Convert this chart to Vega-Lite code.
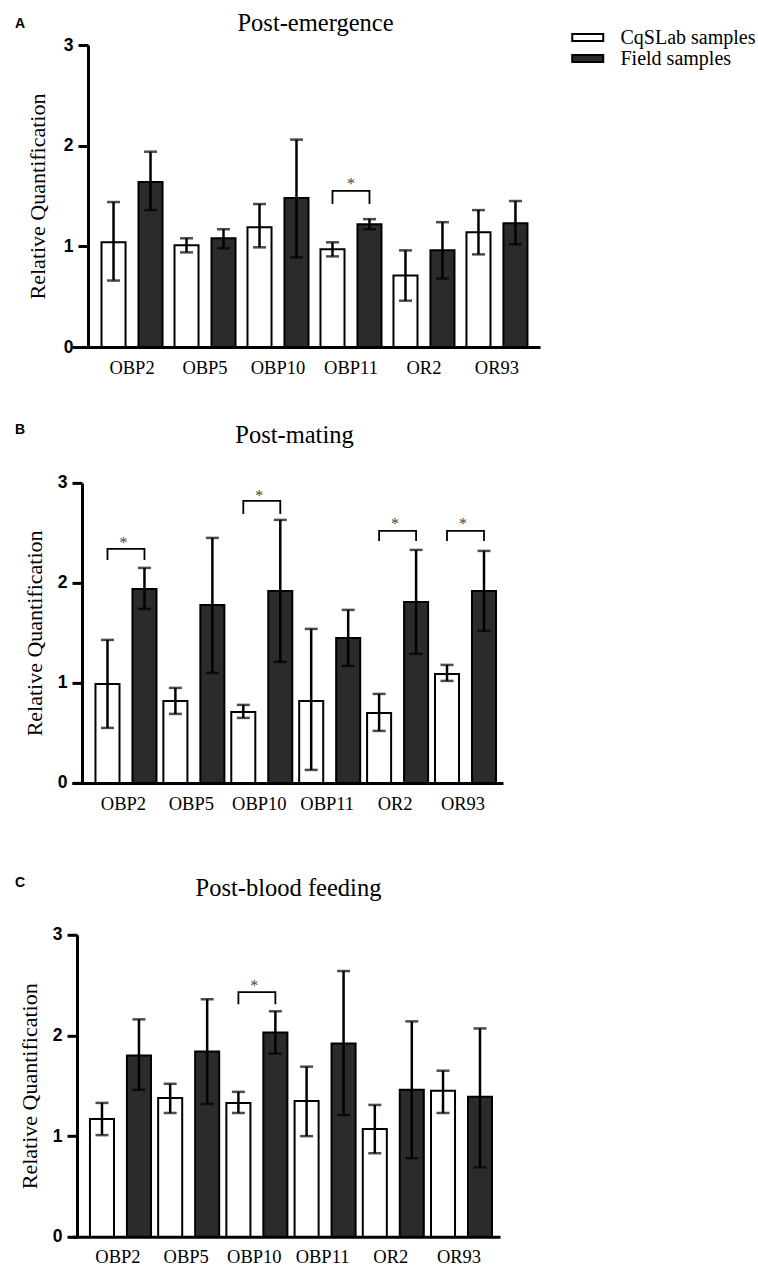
{
  "$schema": "https://vega.github.io/schema/vega-lite/v6.json",
  "background": "white",
  "padding": {"left": 15, "top": 10, "right": 0, "bottom": 0},
  "spacing": 44.9,
  "config": {
    "view": {"stroke": null},
    "font": "Liberation Serif",
    "axis": {"grid": false, "domainColor": "black", "domainWidth": 3, "tickColor": "black", "tickWidth": 3, "labelColor": "black", "titleColor": "black"},
    "axisBottom": {"labelFont": "Liberation Serif", "labelFontSize": 18.5, "labelFontWeight": "normal"},
    "axisLeft": {"labelFont": "Liberation Sans", "labelFontSize": 17.5, "labelFontWeight": "bold"}
  },
  "datasets": {
    "A": [
      {"gene": "OBP2", "group": "CqSLab samples", "mean": 1.04, "lo": 0.66, "hi": 1.44},
      {"gene": "OBP2", "group": "Field samples", "mean": 1.64, "lo": 1.36, "hi": 1.94},
      {"gene": "OBP5", "group": "CqSLab samples", "mean": 1.01, "lo": 0.94, "hi": 1.08},
      {"gene": "OBP5", "group": "Field samples", "mean": 1.08, "lo": 0.98, "hi": 1.17},
      {"gene": "OBP10", "group": "CqSLab samples", "mean": 1.19, "lo": 0.99, "hi": 1.42},
      {"gene": "OBP10", "group": "Field samples", "mean": 1.48, "lo": 0.89, "hi": 2.06},
      {"gene": "OBP11", "group": "CqSLab samples", "mean": 0.97, "lo": 0.9, "hi": 1.04},
      {"gene": "OBP11", "group": "Field samples", "mean": 1.22, "lo": 1.17, "hi": 1.27},
      {"gene": "OR2", "group": "CqSLab samples", "mean": 0.71, "lo": 0.46, "hi": 0.96},
      {"gene": "OR2", "group": "Field samples", "mean": 0.96, "lo": 0.68, "hi": 1.24},
      {"gene": "OR93", "group": "CqSLab samples", "mean": 1.14, "lo": 0.92, "hi": 1.36},
      {"gene": "OR93", "group": "Field samples", "mean": 1.23, "lo": 1.02, "hi": 1.45}
    ],
    "B": [
      {"gene": "OBP2", "group": "CqSLab samples", "mean": 0.99, "lo": 0.55, "hi": 1.43},
      {"gene": "OBP2", "group": "Field samples", "mean": 1.94, "lo": 1.74, "hi": 2.15},
      {"gene": "OBP5", "group": "CqSLab samples", "mean": 0.82, "lo": 0.69, "hi": 0.95},
      {"gene": "OBP5", "group": "Field samples", "mean": 1.78, "lo": 1.1, "hi": 2.45},
      {"gene": "OBP10", "group": "CqSLab samples", "mean": 0.71, "lo": 0.65, "hi": 0.78},
      {"gene": "OBP10", "group": "Field samples", "mean": 1.92, "lo": 1.21, "hi": 2.63},
      {"gene": "OBP11", "group": "CqSLab samples", "mean": 0.82, "lo": 0.13, "hi": 1.54},
      {"gene": "OBP11", "group": "Field samples", "mean": 1.45, "lo": 1.17, "hi": 1.73},
      {"gene": "OR2", "group": "CqSLab samples", "mean": 0.7, "lo": 0.52, "hi": 0.89},
      {"gene": "OR2", "group": "Field samples", "mean": 1.81, "lo": 1.29, "hi": 2.33},
      {"gene": "OR93", "group": "CqSLab samples", "mean": 1.09, "lo": 1.02, "hi": 1.18},
      {"gene": "OR93", "group": "Field samples", "mean": 1.92, "lo": 1.52, "hi": 2.32}
    ],
    "C": [
      {"gene": "OBP2", "group": "CqSLab samples", "mean": 1.17, "lo": 1.01, "hi": 1.33},
      {"gene": "OBP2", "group": "Field samples", "mean": 1.8, "lo": 1.46, "hi": 2.16},
      {"gene": "OBP5", "group": "CqSLab samples", "mean": 1.38, "lo": 1.23, "hi": 1.52},
      {"gene": "OBP5", "group": "Field samples", "mean": 1.84, "lo": 1.32, "hi": 2.36},
      {"gene": "OBP10", "group": "CqSLab samples", "mean": 1.33, "lo": 1.23, "hi": 1.44},
      {"gene": "OBP10", "group": "Field samples", "mean": 2.03, "lo": 1.82, "hi": 2.24},
      {"gene": "OBP11", "group": "CqSLab samples", "mean": 1.35, "lo": 1.0, "hi": 1.69},
      {"gene": "OBP11", "group": "Field samples", "mean": 1.92, "lo": 1.21, "hi": 2.64},
      {"gene": "OR2", "group": "CqSLab samples", "mean": 1.07, "lo": 0.83, "hi": 1.31},
      {"gene": "OR2", "group": "Field samples", "mean": 1.46, "lo": 0.78, "hi": 2.14},
      {"gene": "OR93", "group": "CqSLab samples", "mean": 1.45, "lo": 1.23, "hi": 1.65},
      {"gene": "OR93", "group": "Field samples", "mean": 1.39, "lo": 0.69, "hi": 2.07}
    ],
    "brA": [
      {"gene": "OBP11", "group": "CqSLab samples", "y": 1.42, "k": 0},
      {"gene": "OBP11", "group": "CqSLab samples", "y": 1.55, "k": 1},
      {"gene": "OBP11", "group": "Field samples", "y": 1.55, "k": 2},
      {"gene": "OBP11", "group": "Field samples", "y": 1.42, "k": 3}
    ],
    "stA": [{"gene": "OBP11", "y": 1.62}],
    "brB": [
      {"gene": "OBP2", "group": "CqSLab samples", "y": 2.23, "k": 0},
      {"gene": "OBP2", "group": "CqSLab samples", "y": 2.34, "k": 1},
      {"gene": "OBP2", "group": "Field samples", "y": 2.34, "k": 2},
      {"gene": "OBP2", "group": "Field samples", "y": 2.23, "k": 3},
      {"gene": "OBP10", "group": "CqSLab samples", "y": 2.69, "k": 0},
      {"gene": "OBP10", "group": "CqSLab samples", "y": 2.82, "k": 1},
      {"gene": "OBP10", "group": "Field samples", "y": 2.82, "k": 2},
      {"gene": "OBP10", "group": "Field samples", "y": 2.69, "k": 3},
      {"gene": "OR2", "group": "CqSLab samples", "y": 2.42, "k": 0},
      {"gene": "OR2", "group": "CqSLab samples", "y": 2.52, "k": 1},
      {"gene": "OR2", "group": "Field samples", "y": 2.52, "k": 2},
      {"gene": "OR2", "group": "Field samples", "y": 2.42, "k": 3},
      {"gene": "OR93", "group": "CqSLab samples", "y": 2.42, "k": 0},
      {"gene": "OR93", "group": "CqSLab samples", "y": 2.52, "k": 1},
      {"gene": "OR93", "group": "Field samples", "y": 2.52, "k": 2},
      {"gene": "OR93", "group": "Field samples", "y": 2.42, "k": 3}
    ],
    "stB": [
      {"gene": "OBP2", "y": 2.4},
      {"gene": "OBP10", "y": 2.87},
      {"gene": "OR2", "y": 2.59},
      {"gene": "OR93", "y": 2.59}
    ],
    "brC": [
      {"gene": "OBP10", "group": "CqSLab samples", "y": 2.31, "k": 0},
      {"gene": "OBP10", "group": "CqSLab samples", "y": 2.43, "k": 1},
      {"gene": "OBP10", "group": "Field samples", "y": 2.43, "k": 2},
      {"gene": "OBP10", "group": "Field samples", "y": 2.31, "k": 3}
    ],
    "stC": [{"gene": "OBP10", "y": 2.49}]
  },
  "vconcat": [
    {
      "width": 468, "height": 302,
      "title": {"text": "A", "anchor": "start", "frame": "group", "dx": -57, "offset": -21, "font": "Liberation Sans", "fontSize": 14, "fontWeight": "bold", "color": "black"},
      "resolve": {"axis": {"x": "independent"}},
      "layer": [
        {
          "data": {"name": "A"},
          "mark": {"type": "bar", "stroke": "black", "strokeWidth": 2},
          "encoding": {
            "x": {"field": "gene", "type": "nominal", "sort": ["OBP2", "OBP5", "OBP10", "OBP11", "OR2", "OR93"], "scale": {"paddingInner": 0.164, "paddingOuter": 0.288, "align": 0.702}, "axis": {"orient": "bottom", "title": null, "labelAngle": 0, "ticks": false, "labelPadding": 11, "labelFont": "Liberation Serif", "labelFontSize": 18.5}},
            "xOffset": {"field": "group", "type": "nominal", "sort": ["CqSLab samples", "Field samples"], "scale": {"paddingInner": 0.35, "paddingOuter": 0}},
            "y": {"field": "mean", "type": "quantitative", "title": "Relative Quantification", "scale": {"domain": [0, 3], "nice": false}, "axis": {"values": [0, 1, 2, 3], "format": "d", "offset": -16, "tickSize": 10, "labelFont": "Liberation Sans", "labelFontWeight": "bold", "labelFontSize": 17.5, "labelPadding": 5, "titleFont": "Liberation Serif", "titleFontSize": 22, "titleFontWeight": "normal", "titlePadding": 14}},
            "color": {"field": "group", "type": "nominal", "scale": {"domain": ["CqSLab samples", "Field samples"], "range": ["#ffffff", "#2b2b2b"]}, "legend": {"orient": "none", "legendX": 505.75, "legendY": -17.5, "title": null, "padding": 0, "symbolType": "M-2,-0.46H2V0.46H-2Z", "symbolSize": 240, "symbolStrokeColor": "black", "symbolStrokeWidth": 2, "symbolOpacity": 1, "labelFont": "Liberation Serif", "labelFontSize": 20, "labelColor": "black", "labelOffset": 22.75, "rowPadding": 1}}
          }
        },
        {
          "data": {"name": "A"},
          "mark": {"type": "rule", "strokeWidth": 2.5, "color": "black"},
          "encoding": {
            "x": {"field": "gene", "type": "nominal", "sort": ["OBP2", "OBP5", "OBP10", "OBP11", "OR2", "OR93"], "axis": {"orient": "top", "title": "Post-emergence", "labels": false, "ticks": false, "domain": false, "titleFont": "Liberation Serif", "titleFontSize": 24.5, "titleFontWeight": "normal", "titlePadding": 10, "titleX": 243}},
            "xOffset": {"field": "group", "type": "nominal", "sort": ["CqSLab samples", "Field samples"]},
            "y": {"field": "lo", "type": "quantitative", "title": "Relative Quantification"},
            "y2": {"field": "hi"}
          }
        },
        {
          "data": {"name": "A"},
          "mark": {"type": "tick", "orient": "horizontal", "size": 13, "thickness": 2.5, "color": "black"},
          "encoding": {
            "x": {"field": "gene", "type": "nominal", "sort": ["OBP2", "OBP5", "OBP10", "OBP11", "OR2", "OR93"], "axis": null},
            "xOffset": {"field": "group", "type": "nominal", "sort": ["CqSLab samples", "Field samples"]},
            "y": {"field": "lo", "type": "quantitative", "title": "Relative Quantification"}
          }
        },
        {
          "data": {"name": "A"},
          "mark": {"type": "tick", "orient": "horizontal", "size": 13, "thickness": 2.5, "color": "black"},
          "encoding": {
            "x": {"field": "gene", "type": "nominal", "sort": ["OBP2", "OBP5", "OBP10", "OBP11", "OR2", "OR93"], "axis": null},
            "xOffset": {"field": "group", "type": "nominal", "sort": ["CqSLab samples", "Field samples"]},
            "y": {"field": "hi", "type": "quantitative", "title": "Relative Quantification"}
          }
        },
        {
          "data": {"name": "brA"},
          "mark": {"type": "line", "strokeWidth": 1.8, "color": "black"},
          "encoding": {
            "x": {"field": "gene", "type": "nominal", "sort": ["OBP2", "OBP5", "OBP10", "OBP11", "OR2", "OR93"], "axis": null},
            "xOffset": {"field": "group", "type": "nominal", "sort": ["CqSLab samples", "Field samples"]},
            "y": {"field": "y", "type": "quantitative", "title": "Relative Quantification"},
            "detail": {"field": "gene"},
            "order": {"field": "k"}
          }
        },
        {
          "data": {"name": "stA"},
          "mark": {"type": "text", "text": "*", "font": "Liberation Serif", "fontSize": 16, "color": "#444444", "baseline": "middle"},
          "encoding": {
            "x": {"field": "gene", "type": "nominal", "sort": ["OBP2", "OBP5", "OBP10", "OBP11", "OR2", "OR93"], "axis": null},
            "y": {"field": "y", "type": "quantitative", "title": "Relative Quantification"}
          }
        }
      ]
    },
    {
      "width": 431, "height": 300,
      "title": {"text": "B", "anchor": "start", "frame": "group", "dx": -57, "offset": -15, "font": "Liberation Sans", "fontSize": 14, "fontWeight": "bold", "color": "black"},
      "resolve": {"axis": {"x": "independent"}},
      "layer": [
        {
          "data": {"name": "B"},
          "mark": {"type": "bar", "stroke": "black", "strokeWidth": 2},
          "encoding": {
            "x": {"field": "gene", "type": "nominal", "sort": ["OBP2", "OBP5", "OBP10", "OBP11", "OR2", "OR93"], "scale": {"paddingInner": 0.175, "paddingOuter": 0.261, "align": 0.662}, "axis": {"orient": "bottom", "title": " ", "titleFontSize": 12, "titlePadding": 6, "labelAngle": 0, "ticks": false, "labelPadding": 12, "labelFont": "Liberation Serif", "labelFontSize": 18.5}},
            "xOffset": {"field": "group", "type": "nominal", "sort": ["CqSLab samples", "Field samples"], "scale": {"paddingInner": 0.377, "paddingOuter": 0}},
            "y": {"field": "mean", "type": "quantitative", "title": "Relative Quantification", "scale": {"domain": [0, 3], "nice": false}, "axis": {"values": [0, 1, 2, 3], "format": "d", "offset": -10, "tickSize": 10, "labelFont": "Liberation Sans", "labelFontWeight": "bold", "labelFontSize": 17.5, "labelPadding": 5, "titleFont": "Liberation Serif", "titleFontSize": 22, "titleFontWeight": "normal", "titlePadding": 11}},
            "color": {"field": "group", "type": "nominal", "scale": {"domain": ["CqSLab samples", "Field samples"], "range": ["#ffffff", "#2b2b2b"]}, "legend": {"orient": "none", "legendX": 505.75, "legendY": -17.5, "title": null, "padding": 0, "symbolType": "M-2,-0.46H2V0.46H-2Z", "symbolSize": 240, "symbolStrokeColor": "black", "symbolStrokeWidth": 2, "symbolOpacity": 1, "labelFont": "Liberation Serif", "labelFontSize": 20, "labelColor": "black", "labelOffset": 22.75, "rowPadding": 1}}
          }
        },
        {
          "data": {"name": "B"},
          "mark": {"type": "rule", "strokeWidth": 2.5, "color": "black"},
          "encoding": {
            "x": {"field": "gene", "type": "nominal", "sort": ["OBP2", "OBP5", "OBP10", "OBP11", "OR2", "OR93"], "axis": {"orient": "top", "title": "Post-mating", "labels": false, "ticks": false, "domain": false, "titleFont": "Liberation Serif", "titleFontSize": 24.5, "titleFontWeight": "normal", "titlePadding": 35.5, "titleX": 222}},
            "xOffset": {"field": "group", "type": "nominal", "sort": ["CqSLab samples", "Field samples"]},
            "y": {"field": "lo", "type": "quantitative", "title": "Relative Quantification"},
            "y2": {"field": "hi"}
          }
        },
        {
          "data": {"name": "B"},
          "mark": {"type": "tick", "orient": "horizontal", "size": 13, "thickness": 2.5, "color": "black"},
          "encoding": {
            "x": {"field": "gene", "type": "nominal", "sort": ["OBP2", "OBP5", "OBP10", "OBP11", "OR2", "OR93"], "axis": null},
            "xOffset": {"field": "group", "type": "nominal", "sort": ["CqSLab samples", "Field samples"]},
            "y": {"field": "lo", "type": "quantitative", "title": "Relative Quantification"}
          }
        },
        {
          "data": {"name": "B"},
          "mark": {"type": "tick", "orient": "horizontal", "size": 13, "thickness": 2.5, "color": "black"},
          "encoding": {
            "x": {"field": "gene", "type": "nominal", "sort": ["OBP2", "OBP5", "OBP10", "OBP11", "OR2", "OR93"], "axis": null},
            "xOffset": {"field": "group", "type": "nominal", "sort": ["CqSLab samples", "Field samples"]},
            "y": {"field": "hi", "type": "quantitative", "title": "Relative Quantification"}
          }
        },
        {
          "data": {"name": "brB"},
          "mark": {"type": "line", "strokeWidth": 1.8, "color": "black"},
          "encoding": {
            "x": {"field": "gene", "type": "nominal", "sort": ["OBP2", "OBP5", "OBP10", "OBP11", "OR2", "OR93"], "axis": null},
            "xOffset": {"field": "group", "type": "nominal", "sort": ["CqSLab samples", "Field samples"]},
            "y": {"field": "y", "type": "quantitative", "title": "Relative Quantification"},
            "detail": {"field": "gene"},
            "order": {"field": "k"}
          }
        },
        {
          "data": {"name": "stB"},
          "mark": {"type": "text", "text": "*", "font": "Liberation Serif", "fontSize": 16, "color": "#444444", "baseline": "middle"},
          "encoding": {
            "x": {"field": "gene", "type": "nominal", "sort": ["OBP2", "OBP5", "OBP10", "OBP11", "OR2", "OR93"], "axis": null},
            "y": {"field": "y", "type": "quantitative", "title": "Relative Quantification"}
          }
        }
      ]
    },
    {
      "width": 428, "height": 302,
      "title": {"text": "C", "anchor": "start", "frame": "group", "dx": -57, "offset": -14, "font": "Liberation Sans", "fontSize": 14, "fontWeight": "bold", "color": "black"},
      "resolve": {"axis": {"x": "independent"}},
      "layer": [
        {
          "data": {"name": "C"},
          "mark": {"type": "bar", "stroke": "black", "strokeWidth": 2},
          "encoding": {
            "x": {"field": "gene", "type": "nominal", "sort": ["OBP2", "OBP5", "OBP10", "OBP11", "OR2", "OR93"], "scale": {"paddingInner": 0.179, "paddingOuter": 0.227, "align": 0.58}, "axis": {"orient": "bottom", "title": null, "labelAngle": 0, "ticks": false, "labelPadding": 11, "labelFont": "Liberation Serif", "labelFontSize": 18.5}},
            "xOffset": {"field": "group", "type": "nominal", "sort": ["CqSLab samples", "Field samples"], "scale": {"paddingInner": 0.353, "paddingOuter": 0}},
            "y": {"field": "mean", "type": "quantitative", "title": "Relative Quantification", "scale": {"domain": [0, 3], "nice": false}, "axis": {"values": [0, 1, 2, 3], "format": "d", "offset": -5, "tickSize": 10, "labelFont": "Liberation Sans", "labelFontWeight": "bold", "labelFontSize": 17.5, "labelPadding": 5, "titleFont": "Liberation Serif", "titleFontSize": 22, "titleFontWeight": "normal", "titlePadding": 11}},
            "color": {"field": "group", "type": "nominal", "scale": {"domain": ["CqSLab samples", "Field samples"], "range": ["#ffffff", "#2b2b2b"]}, "legend": {"orient": "none", "legendX": 505.75, "legendY": -17.5, "title": null, "padding": 0, "symbolType": "M-2,-0.46H2V0.46H-2Z", "symbolSize": 240, "symbolStrokeColor": "black", "symbolStrokeWidth": 2, "symbolOpacity": 1, "labelFont": "Liberation Serif", "labelFontSize": 20, "labelColor": "black", "labelOffset": 22.75, "rowPadding": 1}}
          }
        },
        {
          "data": {"name": "C"},
          "mark": {"type": "rule", "strokeWidth": 2.5, "color": "black"},
          "encoding": {
            "x": {"field": "gene", "type": "nominal", "sort": ["OBP2", "OBP5", "OBP10", "OBP11", "OR2", "OR93"], "axis": {"orient": "top", "title": "Post-blood feeding", "labels": false, "ticks": false, "domain": false, "titleFont": "Liberation Serif", "titleFontSize": 24.5, "titleFontWeight": "normal", "titlePadding": 34, "titleX": 216}},
            "xOffset": {"field": "group", "type": "nominal", "sort": ["CqSLab samples", "Field samples"]},
            "y": {"field": "lo", "type": "quantitative", "title": "Relative Quantification"},
            "y2": {"field": "hi"}
          }
        },
        {
          "data": {"name": "C"},
          "mark": {"type": "tick", "orient": "horizontal", "size": 13, "thickness": 2.5, "color": "black"},
          "encoding": {
            "x": {"field": "gene", "type": "nominal", "sort": ["OBP2", "OBP5", "OBP10", "OBP11", "OR2", "OR93"], "axis": null},
            "xOffset": {"field": "group", "type": "nominal", "sort": ["CqSLab samples", "Field samples"]},
            "y": {"field": "lo", "type": "quantitative", "title": "Relative Quantification"}
          }
        },
        {
          "data": {"name": "C"},
          "mark": {"type": "tick", "orient": "horizontal", "size": 13, "thickness": 2.5, "color": "black"},
          "encoding": {
            "x": {"field": "gene", "type": "nominal", "sort": ["OBP2", "OBP5", "OBP10", "OBP11", "OR2", "OR93"], "axis": null},
            "xOffset": {"field": "group", "type": "nominal", "sort": ["CqSLab samples", "Field samples"]},
            "y": {"field": "hi", "type": "quantitative", "title": "Relative Quantification"}
          }
        },
        {
          "data": {"name": "brC"},
          "mark": {"type": "line", "strokeWidth": 1.8, "color": "black"},
          "encoding": {
            "x": {"field": "gene", "type": "nominal", "sort": ["OBP2", "OBP5", "OBP10", "OBP11", "OR2", "OR93"], "axis": null},
            "xOffset": {"field": "group", "type": "nominal", "sort": ["CqSLab samples", "Field samples"]},
            "y": {"field": "y", "type": "quantitative", "title": "Relative Quantification"},
            "detail": {"field": "gene"},
            "order": {"field": "k"}
          }
        },
        {
          "data": {"name": "stC"},
          "mark": {"type": "text", "text": "*", "font": "Liberation Serif", "fontSize": 16, "color": "#444444", "baseline": "middle"},
          "encoding": {
            "x": {"field": "gene", "type": "nominal", "sort": ["OBP2", "OBP5", "OBP10", "OBP11", "OR2", "OR93"], "axis": null},
            "y": {"field": "y", "type": "quantitative", "title": "Relative Quantification"}
          }
        }
      ]
    }
  ]
}
